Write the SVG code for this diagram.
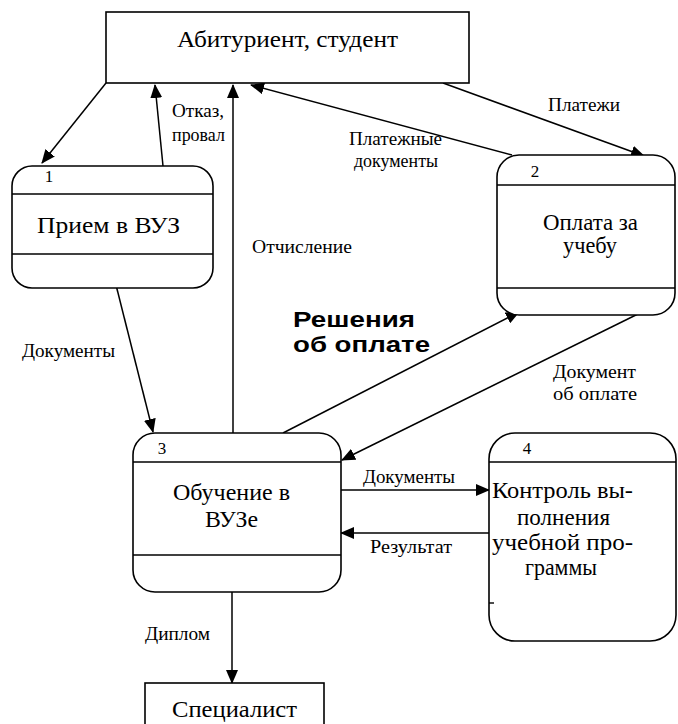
<svg xmlns="http://www.w3.org/2000/svg" width="678" height="724" viewBox="0 0 678 724">
<style>
.box{fill:#fff;stroke:#000;stroke-width:1.6}
.ln{stroke:#000;stroke-width:1.4;fill:none}
.t{font-family:"Liberation Serif","DejaVu Serif","Times New Roman",serif;fill:#000}
.big{font-size:23px}
.lab{font-size:18px}
.num{font-size:17px}
.bold{font-family:"Liberation Sans",Arial,sans-serif;font-weight:bold;font-size:22px;fill:#000}
.conn{stroke:#000;stroke-width:1.5;fill:none;marker-end:url(#ah)}
</style>
<defs>
<marker id="ah" markerUnits="userSpaceOnUse" markerWidth="14" markerHeight="12" refX="13" refY="6" orient="auto">
<path d="M0,0 L14,6 L0,12 Z" fill="#000"/>
</marker>
</defs>
<rect width="678" height="724" fill="#fff"/>

<g id="connectors">
<line class="conn" x1="106" y1="83" x2="42" y2="163"/>
<line class="conn" x1="163" y1="166" x2="155" y2="85"/>
<line class="conn" x1="233" y1="433" x2="233" y2="85"/>
<line class="conn" x1="512" y1="155" x2="251" y2="85"/>
<line class="conn" x1="443" y1="83" x2="644" y2="156"/>
<line class="conn" x1="116" y1="285" x2="153" y2="432"/>
<line class="conn" x1="283" y1="433" x2="519" y2="312"/>
<line class="conn" x1="642" y1="312" x2="342" y2="460"/>
<line class="conn" x1="341" y1="490" x2="489" y2="490"/>
<line class="conn" x1="489" y1="533" x2="341" y2="533"/>
<line class="conn" x1="232" y1="592" x2="232" y2="683"/>
</g>

<g id="labels">
<text class="t lab" x="172" y="117" textLength="52" lengthAdjust="spacingAndGlyphs">Отказ,</text>
<text class="t lab" x="172" y="141" textLength="53" lengthAdjust="spacingAndGlyphs">провал</text>
<text class="t lab" x="252" y="253" textLength="100" lengthAdjust="spacingAndGlyphs">Отчисление</text>
<text class="t lab" x="349" y="145" textLength="93" lengthAdjust="spacingAndGlyphs">Платежные</text>
<text class="t lab" x="354" y="167" textLength="84" lengthAdjust="spacingAndGlyphs">документы</text>
<text class="t lab" x="548" y="111" textLength="72" lengthAdjust="spacingAndGlyphs">Платежи</text>
<text class="t lab" x="22" y="357" textLength="93" lengthAdjust="spacingAndGlyphs">Документы</text>
<text class="bold" x="293" y="327" textLength="122" lengthAdjust="spacingAndGlyphs">Решения</text>
<text class="bold" x="293" y="352" textLength="137" lengthAdjust="spacingAndGlyphs">об оплате</text>
<text class="t lab" x="553" y="378" textLength="83" lengthAdjust="spacingAndGlyphs">Документ</text>
<text class="t lab" x="553" y="400" textLength="84" lengthAdjust="spacingAndGlyphs">об оплате</text>
<text class="t lab" x="363" y="483" textLength="92" lengthAdjust="spacingAndGlyphs">Документы</text>
<text class="t lab" x="370" y="553" textLength="82" lengthAdjust="spacingAndGlyphs">Результат</text>
<text class="t lab" x="145" y="640" textLength="65" lengthAdjust="spacingAndGlyphs">Диплом</text>
</g>

<g id="n-abit">
<rect class="box" x="106" y="12" width="363" height="71"/>
<text class="t big" x="177" y="47" textLength="221" lengthAdjust="spacingAndGlyphs">Абитуриент, студент</text>
</g>

<g id="n1">
<rect class="box" x="12" y="166" width="201" height="122" rx="20"/>
<line class="ln" x1="12" y1="194" x2="213" y2="194"/>
<line class="ln" x1="12" y1="254" x2="213" y2="254"/>
<text class="t num" x="49" y="182" text-anchor="middle">1</text>
<text class="t big" x="37" y="233" textLength="143" lengthAdjust="spacingAndGlyphs">Прием в ВУЗ</text>
</g>

<g id="n2">
<rect class="box" x="497" y="155" width="178" height="160" rx="22"/>
<line class="ln" x1="497" y1="185" x2="675" y2="185"/>
<line class="ln" x1="497" y1="288" x2="675" y2="288"/>
<text class="t num" x="535" y="177" text-anchor="middle">2</text>
<text class="t big" x="543" y="230" textLength="95" lengthAdjust="spacingAndGlyphs">Оплата за</text>
<text class="t big" x="563" y="253" textLength="54" lengthAdjust="spacingAndGlyphs">учебу</text>
</g>

<g id="n3">
<rect class="box" x="133" y="433" width="208" height="159" rx="22"/>
<line class="ln" x1="133" y1="462" x2="341" y2="462"/>
<line class="ln" x1="133" y1="555" x2="341" y2="555"/>
<text class="t num" x="162" y="454" text-anchor="middle">3</text>
<text class="t big" x="173" y="500" textLength="117" lengthAdjust="spacingAndGlyphs">Обучение в</text>
<text class="t big" x="205" y="527" textLength="53" lengthAdjust="spacingAndGlyphs">ВУЗе</text>
</g>

<g id="n4">
<rect class="box" x="489" y="433" width="187" height="208" rx="26"/>
<line class="ln" x1="489" y1="462" x2="676" y2="462"/>
<line class="ln" x1="489" y1="603" x2="494" y2="603"/>
<text class="t num" x="527" y="454" text-anchor="middle">4</text>
<text class="t big" x="492" y="498" textLength="141" lengthAdjust="spacingAndGlyphs">Контроль вы-</text>
<text class="t big" x="517" y="525" textLength="93" lengthAdjust="spacingAndGlyphs">полнения</text>
<text class="t big" x="492" y="550" textLength="141" lengthAdjust="spacingAndGlyphs">учебной про-</text>
<text class="t big" x="525" y="575" textLength="72" lengthAdjust="spacingAndGlyphs">граммы</text>
</g>

<g id="n-spec">
<rect class="box" x="145" y="683" width="179" height="50"/>
<text class="t big" x="172" y="717" textLength="125" lengthAdjust="spacingAndGlyphs">Специалист</text>
</g>
</svg>
